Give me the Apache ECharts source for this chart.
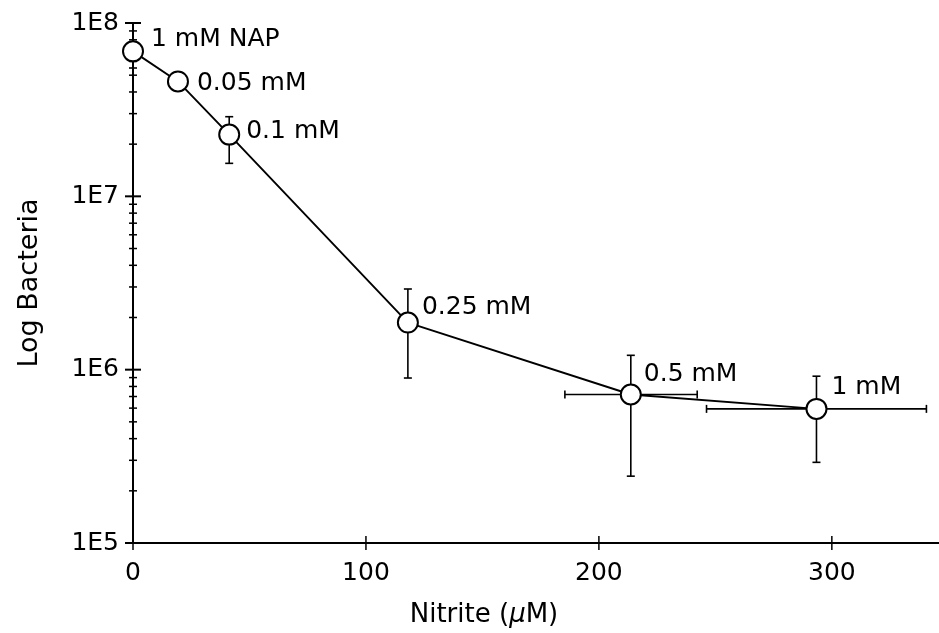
<!DOCTYPE html>
<html>
<head>
<meta charset="utf-8">
<script src="https://cdn.jsdelivr.net/npm/echarts@6/dist/echarts.min.js"></script>
<style>
html,body{margin:0;padding:0;background:#fff;}
#chart{width:939px;height:633px;}
</style>
</head>
<body>
<div id="chart"></div>
<script>
// ---- data ----
const nitrite  = [0, 19.3, 41.3, 118, 213.7, 293.4];            // µM
const bacteria = [6.86e7, 4.6e7, 2.27e7, 1.87e6, 7.19e5, 5.94e5];
const bacteriaLow  = [5.5e7, null, 1.55e7, 8.95e5, 2.43e5, 2.92e5];
const bacteriaHigh = [1.0e8, null, 2.88e7, 2.92e6, 1.21e6, 9.17e5];
const nitriteLow   = [null, null, null, null, 185.4, 246.2];
const nitriteHigh  = [null, null, null, null, 242.2, 340.6];
const pointLabels  = ['1 mM NAP', '0.05 mM', '0.1 mM', '0.25 mM', '0.5 mM', '1 mM'];
const xTickValues  = [0, 100, 200, 300];
const xTickLabels  = ['0', '100', '200', '300'];
const yTickValues  = [1e5, 1e6, 1e7, 1e8];
const yTickLabels  = ['1E5', '1E6', '1E7', '1E8'];
const yMinorTicks  = [];
for (const d of [1e5, 1e6, 1e7]) for (let k = 2; k <= 9; k++) yMinorTicks.push(k * d);

// ---- layout / style (not data) ----
const labelOffsets = [[7, -12], [8, 2], [6, -3], [3, -15], [2, -20], [4, -21]];
const FONT = 'DejaVu Sans';
const X_MIN = 0, X_MAX = 346;

const chart = echarts.init(document.getElementById('chart'), null, {renderer: 'canvas'});

function errRender(params, api) {
  const i = params.dataIndex;
  const children = [];
  const st = {stroke: '#000', lineWidth: 1.6};
  if (bacteriaLow[i] != null) {
    const lo = api.coord([nitrite[i], bacteriaLow[i]]);
    const hi = api.coord([nitrite[i], bacteriaHigh[i]]);
    children.push({type: 'line', shape: {x1: lo[0], y1: lo[1], x2: hi[0], y2: hi[1]}, style: st});
    children.push({type: 'line', shape: {x1: lo[0] - 4, y1: lo[1], x2: lo[0] + 4, y2: lo[1]}, style: st});
    children.push({type: 'line', shape: {x1: hi[0] - 4, y1: hi[1], x2: hi[0] + 4, y2: hi[1]}, style: st});
  }
  if (nitriteLow[i] != null) {
    const l = api.coord([nitriteLow[i], bacteria[i]]);
    const r = api.coord([nitriteHigh[i], bacteria[i]]);
    children.push({type: 'line', shape: {x1: l[0], y1: l[1], x2: r[0], y2: r[1]}, style: st});
    children.push({type: 'line', shape: {x1: l[0], y1: l[1] - 4, x2: l[0], y2: l[1] + 4}, style: st});
    children.push({type: 'line', shape: {x1: r[0], y1: r[1] - 4, x2: r[0], y2: r[1] + 4}, style: st});
  }
  return {type: 'group', children};
}

function yTickRender(halfLen, lw) {
  return function (params, api) {
    const p = api.coord([X_MIN, api.value(1)]);
    return {type: 'line', shape: {x1: p[0] - halfLen, y1: p[1], x2: p[0] + halfLen, y2: p[1]},
            style: {stroke: '#000', lineWidth: lw}};
  };
}
function xTickRender(params, api) {
  const p = api.coord([api.value(0), 1e5]);
  return {type: 'line', shape: {x1: p[0], y1: p[1] - 7, x2: p[0], y2: p[1] + 7},
          style: {stroke: '#000', lineWidth: 1.5}};
}

const option = {
  backgroundColor: '#fff',
  animation: false,
  textStyle: {fontFamily: FONT, color: '#000'},
  grid: {left: 133, top: 23, right: 0, bottom: 90, containLabel: false},
  xAxis: {
    type: 'value', min: X_MIN, max: X_MAX, interval: 100,
    axisLine: {show: true, lineStyle: {color: '#000', width: 2}},
    axisTick: {show: false},
    splitLine: {show: false},
    axisLabel: {
      color: '#000', fontFamily: FONT, fontSize: 25, margin: 18,
      showMaxLabel: false,
      formatter: v => { const k = xTickValues.indexOf(v); return k >= 0 ? xTickLabels[k] : ''; }
    },
    name: 'Nitrite ({mu|μ}M)',
    nameLocation: 'middle', nameGap: 59,
    nameTextStyle: {
      color: '#000', fontFamily: FONT, fontSize: 26, padding: [0, 104, 0, 0],
      rich: {mu: {fontStyle: 'italic', fontFamily: FONT, fontSize: 26, color: '#000'}}
    }
  },
  yAxis: {
    type: 'log', logBase: 10, min: 1e5, max: 1e8,
    axisLine: {show: true, lineStyle: {color: '#000', width: 2}},
    axisTick: {show: false},
    minorTick: {show: false},
    splitLine: {show: false},
    axisLabel: {
      color: '#000', fontFamily: FONT, fontSize: 25, margin: 14,
      formatter: v => {
        const k = yTickValues.findIndex(t => Math.abs(Math.log10(t) - Math.log10(v)) < 1e-6);
        return k >= 0 ? yTickLabels[k] : '';
      }
    },
    name: 'Log Bacteria',
    nameLocation: 'middle', nameGap: 90, nameRotate: 90,
    nameTextStyle: {color: '#000', fontFamily: FONT, fontSize: 27}
  },
  series: [
    {
      type: 'custom', name: 'yMinorTicks', z: 1, silent: true, clip: false,
      renderItem: yTickRender(4, 1.5),
      data: yMinorTicks.map(v => [X_MIN, v])
    },
    {
      type: 'custom', name: 'yMajorTicks', z: 1, silent: true, clip: false,
      renderItem: yTickRender(8, 2),
      data: yTickValues.map(v => [X_MIN, v])
    },
    {
      type: 'custom', name: 'xTicks', z: 1, silent: true, clip: false,
      renderItem: xTickRender,
      data: xTickValues.map(v => [v, 1e5])
    },
    {
      type: 'custom', name: 'errors', z: 2, silent: true, clip: false,
      renderItem: errRender,
      data: nitrite.map((x, i) => [x, bacteria[i]])
    },
    {
      type: 'line', name: 'bacteria', z: 3,
      data: nitrite.map((x, i) => ({
        value: [x, bacteria[i]],
        label: {offset: labelOffsets[i]}
      })),
      symbol: 'circle', symbolSize: 20, showAllSymbol: true,
      lineStyle: {color: '#000', width: 1.9},
      itemStyle: {color: '#fff', borderColor: '#000', borderWidth: 2},
      label: {
        show: true, position: 'right', distance: 0,
        color: '#000', fontFamily: FONT, fontSize: 25,
        formatter: p => pointLabels[p.dataIndex]
      },
      emphasis: {disabled: true}
    }
  ]
};
chart.setOption(option);
</script>
</body>
</html>
